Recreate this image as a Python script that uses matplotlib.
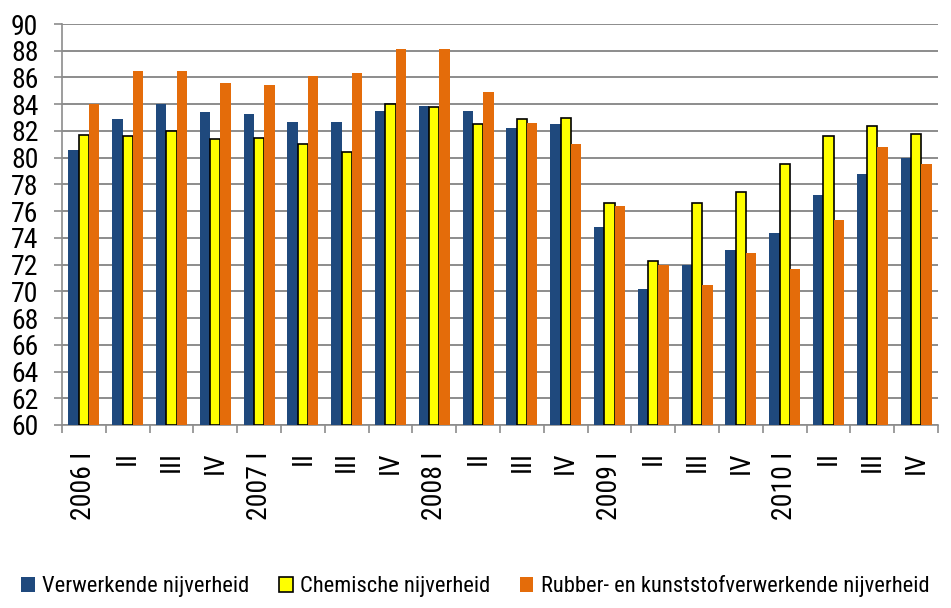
import matplotlib.pyplot as plt
import matplotlib.font_manager as fm
import numpy as np

quarters = ['2006 I', 'II', 'III', 'IV',
            '2007 I', 'II', 'III', 'IV',
            '2008 I', 'II', 'III', 'IV',
            '2009 I', 'II', 'III', 'IV',
            '2010 I', 'II', 'III', 'IV']

verwerkende = [80.6, 82.9, 84.0, 83.4, 83.3, 82.7, 82.7, 83.5, 83.9, 83.5,
               82.2, 82.5, 74.8, 70.2, 72.0, 73.1, 74.4, 77.2, 78.8, 80.0]
chemische = [81.7, 81.6, 82.0, 81.4, 81.5, 81.0, 80.4, 84.0, 83.8, 82.5,
             82.9, 83.0, 76.6, 72.3, 76.6, 77.4, 79.5, 81.6, 82.4, 81.8]
rubber = [84.0, 86.5, 86.5, 85.6, 85.4, 86.1, 86.3, 88.1, 88.1, 84.9,
          82.6, 81.0, 76.4, 72.0, 70.5, 72.9, 71.7, 75.3, 80.8, 79.5]

labels = ['Verwerkende nijverheid', 'Chemische nijverheid',
          'Rubber- en kunststofverwerkende nijverheid']

# look for a narrow sans face (the original uses Arial Narrow)
narrow_family = None
narrow_stretch = 'normal'
entries = fm.fontManager.ttflist
names = {f.name for f in entries}
for n in ['Liberation Sans Narrow', 'Roboto Condensed', 'Open Sans Condensed', 'DejaVu Sans Condensed']:
    if n in names:
        narrow_family = n
        break
if narrow_family is None:
    for n in ['DejaVu Sans', 'Roboto', 'Open Sans', 'Noto Sans', 'Inter']:
        cond = [f for f in entries if f.name == n and f.style == 'normal'
                and str(f.stretch) in ('condensed', 'semi-condensed', 'extra-condensed')]
        if cond:
            narrow_family = n
            narrow_stretch = cond[0].stretch
            break

if narrow_family is not None:
    plt.rcParams['font.family'] = [narrow_family, 'DejaVu Sans']
    plt.rcParams['font.stretch'] = narrow_stretch
    fs_y, fs_x, fs_leg = 20, 20, 16.2
else:
    plt.rcParams['font.family'] = ['Liberation Sans', 'DejaVu Sans']
    fs_y, fs_x, fs_leg = 19, 17, 14

fig = plt.figure(figsize=(9.51, 6.08), dpi=100)
ax = fig.add_axes([0.0652, 0.301, 0.9211, 0.6595])

x = np.arange(len(quarters))
w = 0.235
base = 60
ax.bar(x - w, np.array(verwerkende) - base, w, bottom=base, color='#1f497d', label=labels[0], zorder=3)
ax.bar(x, np.array(chemische) - base, w, bottom=base, color='#ffff00', edgecolor='black',
       linewidth=1.2, label=labels[1], zorder=3)
ax.bar(x + w, np.array(rubber) - base, w, bottom=base, color='#e46c0a', label=labels[2], zorder=3)

ax.set_xlim(-0.5, len(quarters) - 0.5)
ax.set_ylim(60, 90)
ax.set_yticks(np.arange(60, 91, 2))
ax.yaxis.grid(True, color='#8c8c8c', linewidth=1.4, zorder=0)
ax.set_axisbelow(True)

for s in ['top', 'right']:
    ax.spines[s].set_visible(False)
for s in ['left', 'bottom']:
    ax.spines[s].set_color('#8c8c8c')
    ax.spines[s].set_linewidth(1.2)

ax.tick_params(axis='y', length=6, width=1.2, color='#8c8c8c', labelsize=fs_y, pad=11)
ax.set_xticks(x)
ax.set_xticklabels(quarters, rotation=90, fontsize=fs_x, va='top')
ax.tick_params(axis='x', which='major', length=0, pad=19)
ax.set_xticks(np.arange(-0.5, len(quarters), 1), minor=True)
ax.tick_params(axis='x', which='minor', length=6, width=1.2, color='#8c8c8c', direction='out')

fig.legend(loc='lower center', bbox_to_anchor=(0.5, -0.016), ncol=3, frameon=False,
           fontsize=fs_leg, handlelength=0.6, handleheight=0.6, handletextpad=0.35,
           columnspacing=1.3)

plt.savefig('out.png', dpi=100)
